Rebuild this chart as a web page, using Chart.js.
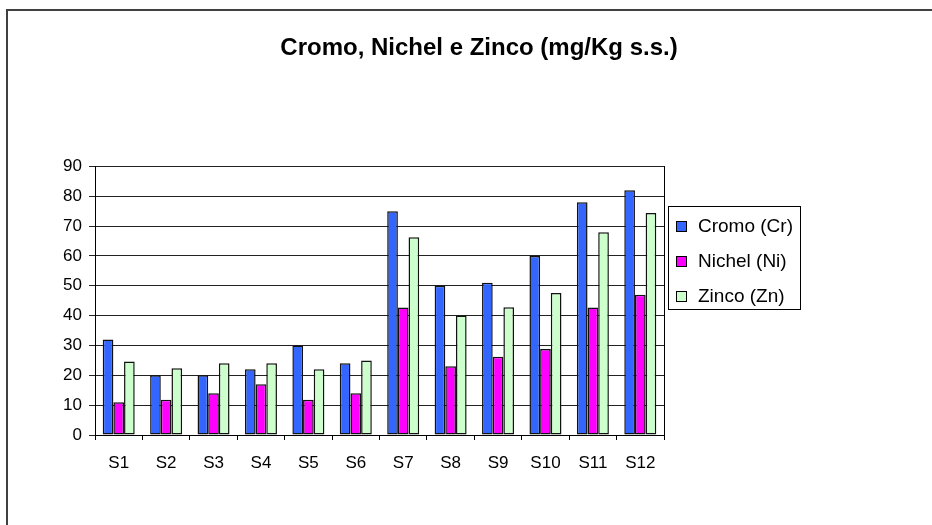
<!DOCTYPE html>
<html>
<head>
<meta charset="utf-8">
<script src="https://cdn.jsdelivr.net/npm/chart.js@4/dist/chart.umd.min.js"></script>
<style>
  html, body { margin: 0; padding: 0; background: #fff; overflow: hidden; }
  #wrap { position: relative; width: 932px; height: 525px; }
  #frame {
    position: absolute; left: 6px; top: 9px; width: 960px; height: 560px;
    border-top: 2px solid #404040; border-left: 2px solid #404040;
  }
  #c { position: absolute; left: 0; top: 0; }
</style>
</head>
<body>
<div id="wrap">
  <div id="frame"></div>
  <canvas id="c" width="932" height="525"></canvas>
</div>
<script>
// Sampling stations
const categories = ['S1', 'S2', 'S3', 'S4', 'S5', 'S6', 'S7', 'S8', 'S9', 'S10', 'S11', 'S12'];

// Concentrations, mg/Kg s.s.
const cromo  = [32, 20, 20, 22, 30, 24, 75, 50, 51, 60, 78, 82];
const nichel = [11, 11.8, 14, 17, 11.8, 14, 42.7, 23, 26.2, 28.8, 42.7, 47];
const zinco  = [24.6, 22.4, 24, 24, 22, 25, 66.3, 40, 42.8, 47.6, 67.9, 74.4];

// Value axis
const yMin = 0, yMax = 90, yStep = 10;

const seriesNames  = ['Cromo (Cr)', 'Nichel (Ni)', 'Zinco (Zn)'];
const seriesColors = ['#3366FF', '#FF00FF', '#CCFFCC'];

const FONT = "'Liberation Sans', Arial, sans-serif";

// Boxed legend to the right of the plot
const boxLegend = {
  id: 'boxLegend',
  afterDraw(chart) {
    const ctx = chart.ctx;
    const x0 = 668, y0 = 206, w = 132, h = 103;
    ctx.save();
    ctx.strokeStyle = '#000';
    ctx.lineWidth = 1;
    ctx.strokeRect(x0 + 0.5, y0 + 0.5, w, h);
    ctx.font = '19px ' + FONT;
    ctx.textBaseline = 'middle';
    ctx.textAlign = 'left';
    chart.data.datasets.forEach((ds, i) => {
      const cy = 226 + i * 35;
      ctx.fillStyle = ds.backgroundColor;
      ctx.fillRect(676, cy - 5, 11, 11);
      ctx.strokeStyle = '#000';
      ctx.strokeRect(676.5, cy - 4.5, 10, 10);
      ctx.fillStyle = '#000';
      ctx.fillText(ds.label, 698, cy + 1);
    });
    ctx.restore();
  }
};

new Chart(document.getElementById('c'), {
  type: 'bar',
  data: {
    labels: categories,
    datasets: [cromo, nichel, zinco].map((vals, i) => ({
      label: seriesNames[i],
      data: vals,
      backgroundColor: seriesColors[i],
      borderColor: '#111',
      borderWidth: 1.5,
      borderSkipped: false,
      categoryPercentage: 0.675,
      barPercentage: 1.0,
      yAxisID: 'y'
    }))
  },
  options: {
    responsive: false,
    animation: false,
    layout: { padding: { top: 9, left: 26, right: 0, bottom: 0 } },
    plugins: {
      legend: { display: false },
      tooltip: { enabled: false },
      title: {
        display: true,
        text: 'Cromo, Nichel e Zinco (mg/Kg s.s.)',
        color: '#000',
        font: { family: FONT, size: 24, weight: 'bold', lineHeight: 1.2 },
        padding: { top: 25, bottom: 103.6 }
      }
    },
    scales: {
      x: {
        offset: true,
        grid: {
          offset: true, drawOnChartArea: false, drawTicks: true,
          tickLength: 5, color: '#000'
        },
        border: { display: true, color: '#000', width: 1 },
        ticks: { color: '#000', font: { family: FONT, size: 17 }, padding: 13, maxRotation: 0 },
        afterFit(scale) { scale.height = 90; }
      },
      y: {
        position: 'left',
        min: yMin, max: yMax,
        ticks: { stepSize: yStep, color: '#000', font: { family: FONT, size: 17 }, padding: 7 },
        grid: { color: '#222', lineWidth: 1, tickLength: 6, drawTicks: true },
        border: { display: true, color: '#000', width: 1 },
        afterFit(scale) { scale.width = 69; }
      },
      yRight: {
        position: 'right',
        display: true,
        min: 0, max: 1,
        ticks: { display: false },
        grid: { display: false },
        border: { display: true, color: '#000', width: 1 },
        afterFit(scale) { scale.width = 268; }
      }
    }
  },
  plugins: [boxLegend]
});
</script>
</body>
</html>
